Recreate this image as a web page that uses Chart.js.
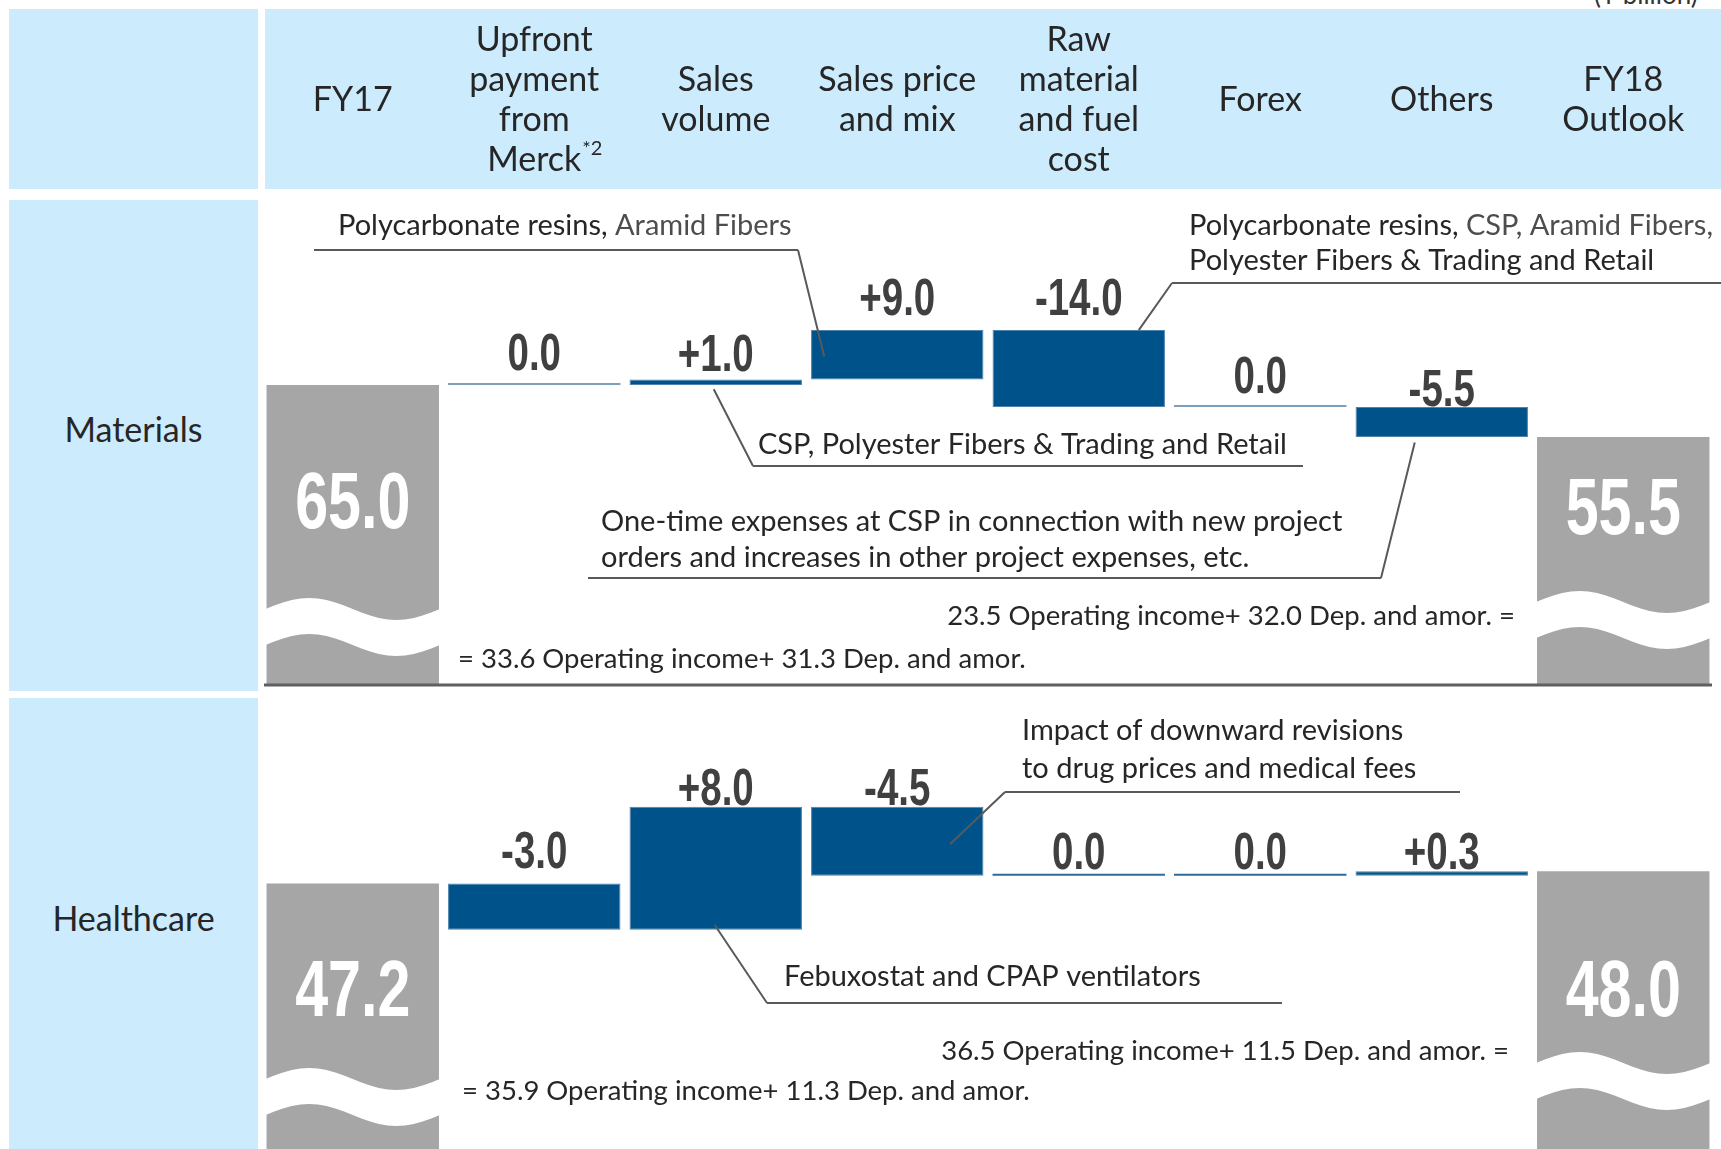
<!DOCTYPE html>
<html>
<head>
<meta charset="utf-8">
<script src="https://cdn.jsdelivr.net/npm/chart.js@4.4.1/dist/chart.umd.min.js"></script>
<style>
  body { margin: 0; width: 1721px; height: 1149px; position: relative; overflow: hidden; background: #fff; font-family: Lato, sans-serif; }
  .cell { position: absolute; background: #ccebfd; }
  .rowlabel { position: absolute; left: 9px; width: 249px; text-align: center; font-size: 34px; color: #262626; }
  .unit { position: absolute; left: 1594px; top: -22px; font-size: 26px; color: #333; }
  canvas { position: absolute; left: 0; }
</style>
</head>
<body>
<div class="unit">(¥ billion)</div>
<div class="cell" style="left:9px;top:9px;width:249px;height:180px"></div>
<div class="cell" style="left:265px;top:9px;width:1456px;height:180px"></div>
<div class="cell" style="left:9px;top:200px;width:249px;height:491px"></div>
<div class="cell" style="left:9px;top:698px;width:249px;height:451px"></div>
<div class="rowlabel" style="top:408px">Materials</div>
<div class="rowlabel" style="top:897px">Healthcare</div>
<canvas id="materialsChart" width="1721" height="690" style="top:0"></canvas>
<canvas id="healthcareChart" width="1721" height="457" style="top:692px"></canvas>
<script>
// categories (header row)
const categories = [
  ["FY17"],
  ["Upfront", "payment", "from", "Merck"],
  ["Sales", "volume"],
  ["Sales price", "and mix"],
  ["Raw", "material", "and fuel", "cost"],
  ["Forex"],
  ["Others"],
  ["FY18", "Outlook"],
];

// Materials (¥ billion)
const materialsStart = 65.0;
const materialsChanges = [0.0, 1.0, 9.0, -14.0, 0.0, -5.5];
const materialsEnd = 55.5;

// Healthcare (¥ billion)
const healthcareStart = 47.2;
const healthcareChanges = [-3.0, 8.0, -4.5, 0.0, 0.0, 0.3];
const healthcareEnd = 48.0;

const BLUE = "#00538a";
const GREY = "#a6a6a6";
const DARK = "#262626";
const MID = "#4d4d4d";

// build floating bars for the waterfall
function waterfall(start, changes, end) {
  const bars = [[0, start]];
  let level = start;
  changes.forEach((c) => {
    const next = Math.round((level + c) * 10) / 10;
    bars.push([level, next]);
    level = next;
  });
  bars.push([0, end]);
  return bars;
}

function labelsFor(start, changes, end) {
  return [start.toFixed(1)]
    .concat(changes.map((c) => (c > 0 ? "+" : "") + c.toFixed(1)))
    .concat([end.toFixed(1)]);
}

const decorPlugin = {
  id: "waterfallDecor",
  afterDatasetsDraw(chart, args, opts) {
    const ctx = chart.ctx;
    const area = chart.chartArea;
    const meta = chart.getDatasetMeta(0);
    const last = meta.data.length - 1;

    // wavy break on the total bars
    ctx.save();
    ctx.beginPath();
    ctx.rect(area.left, area.top, area.right - area.left, area.bottom - area.top);
    ctx.clip();
    ctx.fillStyle = "#fff";
    [0, last].forEach((i, k) => {
      const bar = meta.data[i];
      const left = bar.x - bar.width / 2 - 1;
      const right = bar.x + bar.width / 2 + 1;
      const yc = opts.waveY[k] - opts.top;
      const pts = [];
      for (let s = 0; s <= 40; s++) {
        const u = s / 40;
        pts.push([left + (right - left) * u, yc - 11 * Math.sin(2 * Math.PI * u)]);
      }
      ctx.beginPath();
      pts.forEach((p, j) => (j ? ctx.lineTo(p[0], p[1] - 18) : ctx.moveTo(p[0], p[1] - 18)));
      pts.slice().reverse().forEach((p) => ctx.lineTo(p[0], p[1] + 18));
      ctx.closePath();
      ctx.fill();
    });
    ctx.restore();

    // value labels
    ctx.save();
    ctx.textAlign = "center";
    ctx.textBaseline = "alphabetic";
    meta.data.forEach((bar, i) => {
      const text = opts.labels[i];
      let y;
      if (i === 0 || i === last) {
        ctx.fillStyle = "#fff";
        ctx.font = "bold 80px 'Liberation Sans', Arial, sans-serif";
        y = opts.totalY[i === 0 ? 0 : 1] - opts.top;
      } else {
        ctx.fillStyle = "#404040";
        ctx.font = "bold 52px 'Liberation Sans', Arial, sans-serif";
        y = Math.min(bar.y, bar.base) - opts.gaps[i];
      }
      ctx.save();
      ctx.translate(bar.x, y);
      ctx.scale(0.74, 1);
      ctx.fillText(text, 0, 0);
      ctx.restore();
    });
    ctx.restore();
  },
  afterDraw(chart, args, opts) {
    const ctx = chart.ctx;
    const xs = chart.scales.x;
    const ys = chart.scales.y;
    const top = opts.top;
    ctx.save();
    ctx.textBaseline = "middle";
    ctx.strokeStyle = "#595959";
    ctx.lineWidth = 2;
    opts.notes.forEach((n) => {
      ctx.font = (n.size || 29) + "px Lato, sans-serif";
      n.lines.forEach((runs, li) => {
        const y = n.y + li * (n.gap || 0) - top;
        let x = n.x;
        if (n.align === "right") {
          x -= runs.reduce((w, r) => w + ctx.measureText(r[0]).width, 0);
        }
        runs.forEach((r) => {
          ctx.fillStyle = r[1];
          ctx.fillText(r[0], x, y);
          x += ctx.measureText(r[0]).width;
        });
      });
      if (n.rule) {
        const [x1, x2, ry] = n.rule;
        ctx.beginPath();
        ctx.moveTo(x1, ry - top);
        ctx.lineTo(x2, ry - top);
        const sx = n.from === "left" ? x1 : x2;
        ctx.moveTo(sx, ry - top);
        ctx.lineTo(xs.getPixelForValue(n.to.bar) + n.to.dx, ys.getPixelForValue(n.to.value));
        ctx.stroke();
      }
    });
    if (opts.separator) {
      ctx.strokeStyle = "#5f5f5f";
      ctx.lineWidth = 3;
      ctx.beginPath();
      ctx.moveTo(264, chart.chartArea.bottom - 1);
      ctx.lineTo(1712, chart.chartArea.bottom - 1);
      ctx.stroke();
    }
    if (opts.superscript) {
      ctx.font = "34px Lato, sans-serif";
      const w = ctx.measureText("Merck").width;
      ctx.font = "20px Lato, sans-serif";
      ctx.fillStyle = DARK;
      ctx.textAlign = "left";
      ctx.fillText("*2", xs.getPixelForTick(1) + w / 2 + 1, 149);
    }
    ctx.restore();
  },
};

function makeChart(id, start, changes, end, cfg) {
  const bars = waterfall(start, changes, end);
  const last = bars.length - 1;
  const kind = (i) => (i === 0 || i === last ? "total" : changes[i - 1] === 0 ? "zero" : "delta");
  return new Chart(document.getElementById(id), {
    type: "bar",
    data: {
      labels: categories,
      datasets: [
        {
          data: bars,
          backgroundColor: (c) => ({ total: GREY, zero: cfg.zeroColor, delta: BLUE })[kind(c.dataIndex)],
          borderColor: (c) => ({ total: GREY, zero: cfg.zeroColor, delta: "#4f82ad" })[kind(c.dataIndex)],
          borderWidth: (c) => (kind(c.dataIndex) === "delta" ? 1 : 0),
          borderSkipped: false,
          minBarLength: 2,
          barPercentage: 0.95,
          categoryPercentage: 1,
        },
      ],
    },
    options: {
      responsive: false,
      animation: false,
      layout: { padding: { left: 262, right: 7, top: cfg.padTop, bottom: cfg.padBottom } },
      scales: {
        x: {
          position: "top",
          display: cfg.header,
          grid: { display: false, drawTicks: true, tickLength: 20 },
          border: { display: false },
          ticks: {
            font: { family: "Lato", size: 34, lineHeight: 1.18 },
            color: DARK,
            padding: 20,
            maxRotation: 0,
            autoSkip: false,
            crossAlign: "center",
          },
          afterFit: (scale) => {
            if (cfg.header) scale.height = 200;
          },
        },
        y: { display: false, min: cfg.min, max: cfg.max },
      },
      plugins: {
        legend: { display: false },
        tooltip: { enabled: false },
        waterfallDecor: {
          top: cfg.top,
          labels: labelsFor(start, changes, end),
          gaps: cfg.gaps,
          totalY: cfg.totalY,
          waveY: cfg.waveY,
          notes: cfg.notes,
          separator: cfg.header,
          superscript: cfg.header,
        },
      },
    },
    plugins: [decorPlugin],
  });
}

makeChart("materialsChart", materialsStart, materialsChanges, materialsEnd, {
  top: 0,
  header: true,
  padTop: 0,
  padBottom: 4,
  min: 10.14,
  max: 98.7,
  zeroColor: "#7c9fbd",
  gaps: [0, 13, 8, 15, 15, 12, 1, 0],
  totalY: [528, 534],
  waveY: [627, 620],
  notes: [
    { lines: [[["Polycarbonate resins, ", DARK], ["Aramid Fibers", MID]]], x: 338, y: 226,
      rule: [314, 798, 250], from: "right", to: { bar: 3, dx: -73, value: 70.2 } },
    { lines: [[["Polycarbonate resins, ", DARK], ["CSP, Aramid Fibers,", MID]], [["Polyester Fibers & Trading and Retail", DARK]]],
      x: 1189, y: 226, gap: 35, rule: [1172, 1721, 283], from: "left", to: { bar: 4, dx: 60, value: 75 } },
    { lines: [[["CSP, Polyester Fibers & Trading and Retail", DARK]]], x: 758, y: 445,
      rule: [753, 1303, 466], from: "left", to: { bar: 2, dx: -2, value: 64.2 } },
    { lines: [[["One-time expenses at CSP in connection with new project", DARK]], [["orders and increases in other project expenses, etc.", DARK]]],
      x: 601, y: 522, gap: 36, rule: [588, 1381, 578], from: "right", to: { bar: 6, dx: -27, value: 54.5 } },
    { lines: [[["23.5 Operating income+ 32.0 Dep. and amor. =", DARK]]], x: 1515, y: 616, align: "right", size: 27.5 },
    { lines: [[["= 33.6 Operating income+ 31.3 Dep. and amor.", DARK]]], x: 458, y: 659, size: 27.5 },
  ],
});

makeChart("healthcareChart", healthcareStart, healthcareChanges, healthcareEnd, {
  top: 692,
  header: false,
  padTop: 6,
  padBottom: 0,
  min: 29.93,
  max: 59.27,
  zeroColor: "#2f6a99",
  gaps: [0, 16, 2, 2, 5, 5, 2, 0],
  totalY: [1016, 1016],
  waveY: [1097, 1081],
  notes: [
    { lines: [[["Impact of downward revisions", DARK]], [["to drug prices and medical fees", DARK]]], x: 1022, y: 731, gap: 38,
      rule: [1005, 1460, 792], from: "left", to: { bar: 3, dx: 53, value: 49.77 } },
    { lines: [[["Febuxostat and CPAP ventilators", DARK]]], x: 784, y: 977,
      rule: [767, 1282, 1003], from: "left", to: { bar: 2, dx: -1, value: 44.5 } },
    { lines: [[["36.5 Operating income+ 11.5 Dep. and amor. =", DARK]]], x: 1509, y: 1051, align: "right", size: 27.5 },
    { lines: [[["= 35.9 Operating income+ 11.3 Dep. and amor.", DARK]]], x: 462, y: 1091, size: 27.5 },
  ],
});
</script>
</body>
</html>
